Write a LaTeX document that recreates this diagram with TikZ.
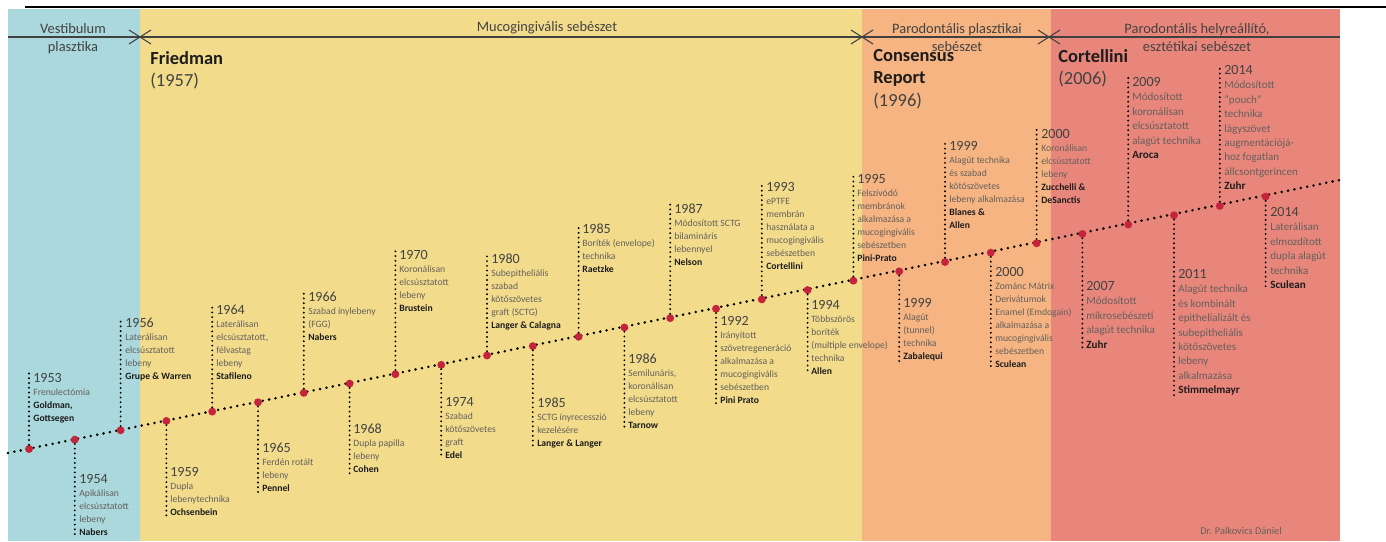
\documentclass[tikz,border=0pt]{standalone}
\usepackage{fontspec}
\setmainfont{Carlito}
\usetikzlibrary{positioning}

\definecolor{vestblue}{RGB}{170,216,220}
\definecolor{mucoyellow}{RGB}{242,220,140}
\definecolor{plastorange}{RGB}{245,180,130}
\definecolor{restsalmon}{RGB}{233,134,124}
\definecolor{dotred}{RGB}{196,36,60}
\definecolor{txtgray}{RGB}{100,96,92}
\definecolor{yeargray}{RGB}{66,66,66}
\definecolor{namedark}{RGB}{28,28,28}

\newcommand{\evyr}[1]{{\fontsize{8}{8}\selectfont\color{yeargray}#1}}
\newcommand{\evnm}[1]{{\bfseries\color{namedark}#1}}

\begin{document}
\begin{tikzpicture}[
		x=0.02cm, y=-0.02cm,
		evdot/.style={circle, fill=dotred, inner sep=0pt, minimum size=4.5pt},
		timeline/.style={line width=1.6pt, dash pattern=on 0pt off 3.7pt, line cap=round},
		leader/.style={line width=1.2pt, dash pattern=on 0pt off 2.7pt, line cap=round},
		phaseline/.style={line width=0.6pt, draw=black!75},
		evtext/.style={anchor=north west, inner sep=0pt, align=left, text=txtgray,
				font=\fontsize{5.5}{7.4}\selectfont},
		evbig/.style={font=\fontsize{6.3}{8.2}\selectfont},
		phase/.style={align=center, inner sep=0pt, text=yeargray, font=\fontsize{8.2}{10.2}\selectfont},
		header/.style={anchor=north west, inner sep=0pt, align=left, text=namedark,
				font=\fontsize{10.5}{12.8}\selectfont}
	]
	\useasboundingbox (0,0) rectangle (1386,541);
	% korszakok hattere
	\fill[vestblue] (8,9) rectangle (140,541);
	\fill[mucoyellow] (140,9) rectangle (862,541);
	\fill[plastorange] (862,9) rectangle (1051,541);
	\fill[restsalmon] (1051,9) rectangle (1340,541);
	\draw[line width=1.2pt] (25,7) -- (1386,7);

	% korszak-vonal es hatarok
	\coordinate (ph0) at (8,37);
	\coordinate (ph1) at (1340,37);
	\coordinate (cx1) at (140,37);
	\coordinate (cx2) at (862,37);
	\coordinate (cx3) at (1049,37);
	\draw[phaseline] (ph0) -- (ph1);
	\foreach \c in {cx1,cx2,cx3}
	\draw[phaseline] (\c) ++(-11,-7) -- ++(22,14) (\c) ++(-11,7) -- ++(22,-14);

	\node[phase] (pv) at (73,39) {Vestibulum\\plasztika};
	\node[phase] (pm) at (547,28) {Mucogingivális sebészet};
	\node[phase] (pp) at (957,38) {Parodontális plasztikai\\sebészet};
	\node[phase] (pr) at (1197,38) {Parodontális helyreállító,\\esztétikai sebészet};

	\node[header] (hfried) at (150,51) {{\bfseries Friedman}\\{\color{yeargray}(1957)}};
	\node[header] (hcons) at (873,49) {{\bfseries Consensus}\\{\bfseries Report}\\{\color{yeargray}(1996)}};
	\node[header] (hcort) at (1058,49) {{\bfseries Cortellini}\\{\color{yeargray}(2006)}};

	% idovonal
	\coordinate (tl0) at (8,453);
	\coordinate (tl1) at (1340,180);
	\draw[timeline] (tl0) -- (tl1);
	\foreach \i in {1,...,28}
	\node[evdot] (d\i) at ({29+45.8*(\i-1)},{449-9.35*(\i-1)}) {};

	% esemenyek
	\node[evtext] (l1) at (33,373) {\evyr{1953}\\Frenulectómia\\\evnm{Goldman,}\\\evnm{Gottsegen}};
	\node[evtext] (l2) at (79,474) {\evyr{1954}\\Apikálisan\\elcsúsztatott\\lebeny\\\evnm{Nabers}};
	\node[evtext] (l3) at (125,318) {\evyr{1956}\\Laterálisan\\elcsúsztatott\\lebeny\\\evnm{Grupe \& Warren}};
	\node[evtext] (l4) at (170,467) {\evyr{1959}\\Dupla\\lebenytechnika\\\evnm{Ochsenbein}};
	\node[evtext] (l5) at (216,305) {\evyr{1964}\\Laterálisan\\elcsúsztatott,\\félvastag\\lebeny\\\evnm{Stafileno}};
	\node[evtext] (l6) at (262,443) {\evyr{1965}\\Ferdén rotált\\lebeny\\\evnm{Pennel}};
	\node[evtext] (l7) at (308,292) {\evyr{1966}\\Szabad ínylebeny\\(FGG)\\\evnm{Nabers}};
	\node[evtext] (l8) at (353,424) {\evyr{1968}\\Dupla papilla\\lebeny\\\evnm{Cohen}};
	\node[evtext] (l9) at (399,250) {\evyr{1970}\\Koronálisan\\elcsúsztatott\\lebeny\\\evnm{Brustein}};
	\node[evtext] (l10) at (445,397) {\evyr{1974}\\Szabad\\kötőszövetes\\graft\\\evnm{Edel}};
	\node[evtext] (l11) at (491,254) {\evyr{1980}\\Subepitheliális\\szabad\\kötőszövetes\\graft (SCTG)\\\evnm{Langer \& Calagna}};
	\node[evtext] (l12) at (537,398) {\evyr{1985}\\SCTG ínyrecesszió\\kezelésére\\\evnm{Langer \& Langer}};
	\node[evtext] (l13) at (582,224) {\evyr{1985}\\Boríték (envelope)\\technika\\\evnm{Raetzke}};
	\node[evtext] (l14) at (628,354) {\evyr{1986}\\Semilunáris,\\koronálisan\\elcsúsztatott\\lebeny\\\evnm{Tarnow}};
	\node[evtext] (l15) at (674,204) {\evyr{1987}\\Módosított SCTG\\bilamináris\\lebennyel\\\evnm{Nelson}};
	\node[evtext] (l16) at (720,316) {\evyr{1992}\\Irányított\\szövetregeneráció\\alkalmazása a\\mucogingivális\\sebészetben\\\evnm{Pini Prato}};
	\node[evtext] (l17) at (766,182) {\evyr{1993}\\ePTFE\\membrán\\használata a\\mucogingivális\\sebészetben\\\evnm{Cortellini}};
	\node[evtext] (l18) at (811,300) {\evyr{1994}\\Többszörös\\boríték\\(multiple envelope)\\technika\\\evnm{Allen}};
	\node[evtext] (l19) at (857,174) {\evyr{1995}\\Felszívódó\\membránok\\alkalmazása a\\mucogingivális\\sebészetben\\\evnm{Pini-Prato}};
	\node[evtext] (l20) at (903,298) {\evyr{1999}\\Alagút\\(tunnel)\\technika\\\evnm{Zabalequi}};
	\node[evtext] (l21) at (949,141) {\evyr{1999}\\Alagút technika\\és szabad\\kötőszövetes\\lebeny alkalmazása\\\evnm{Blanes \&}\\\evnm{Allen}};
	\node[evtext] (l22) at (995,267) {\evyr{2000}\\Zománc Mátrix\\Derivátumok\\Enamel (Emdogain)\\alkalmazása a\\mucogingivális\\sebészetben\\\evnm{Sculean}};
	\node[evtext] (l23) at (1041,129) {\evyr{2000}\\Koronálisan\\elcsúsztatott\\lebeny\\\evnm{Zucchelli \&}\\\evnm{DeSanctis}};
	\node[evtext,evbig] (l24) at (1086,281) {\evyr{2007}\\Módosított\\mikrosebészeti\\alagút technika\\\evnm{Zuhr}};
	\node[evtext,evbig] (l25) at (1132,77) {\evyr{2009}\\Módosított\\koronálisan\\elcsúsztatott\\alagút technika\\\evnm{Aroca}};
	\node[evtext,evbig] (l26) at (1178,269) {\evyr{2011}\\Alagút technika\\és kombinált\\epithelializált és\\subepitheliális\\kötőszövetes\\lebeny\\alkalmazása\\\evnm{Stimmelmayr}};
	\node[evtext,evbig] (l27) at (1224,65) {\evyr{2014}\\Módosított\\\char"201Cpouch\char"201D\\technika\\lágyszövet\\augmentációjá-\\hoz fogatlan\\állcsontgerincen\\\evnm{Zuhr}};
	\node[evtext,evbig] (l28) at (1270,207) {\evyr{2014}\\Laterálisan\\elmozdított\\dupla alagút\\technika\\\evnm{Sculean}};

	% vezetovonalak: paratlan felfele, paros lefele
	\foreach \i in {1,3,...,27}
	\draw[leader] (d\i) -- (d\i |- l\i.north);
	\foreach \i in {2,4,...,28}
	\draw[leader] (d\i) -- (d\i |- l\i.south);

	\node[text=txtgray, font=\fontsize{5.9}{7}\selectfont] (sig) at (1241,531) {Dr. Palkovics Dániel};
\end{tikzpicture}
\end{document}
